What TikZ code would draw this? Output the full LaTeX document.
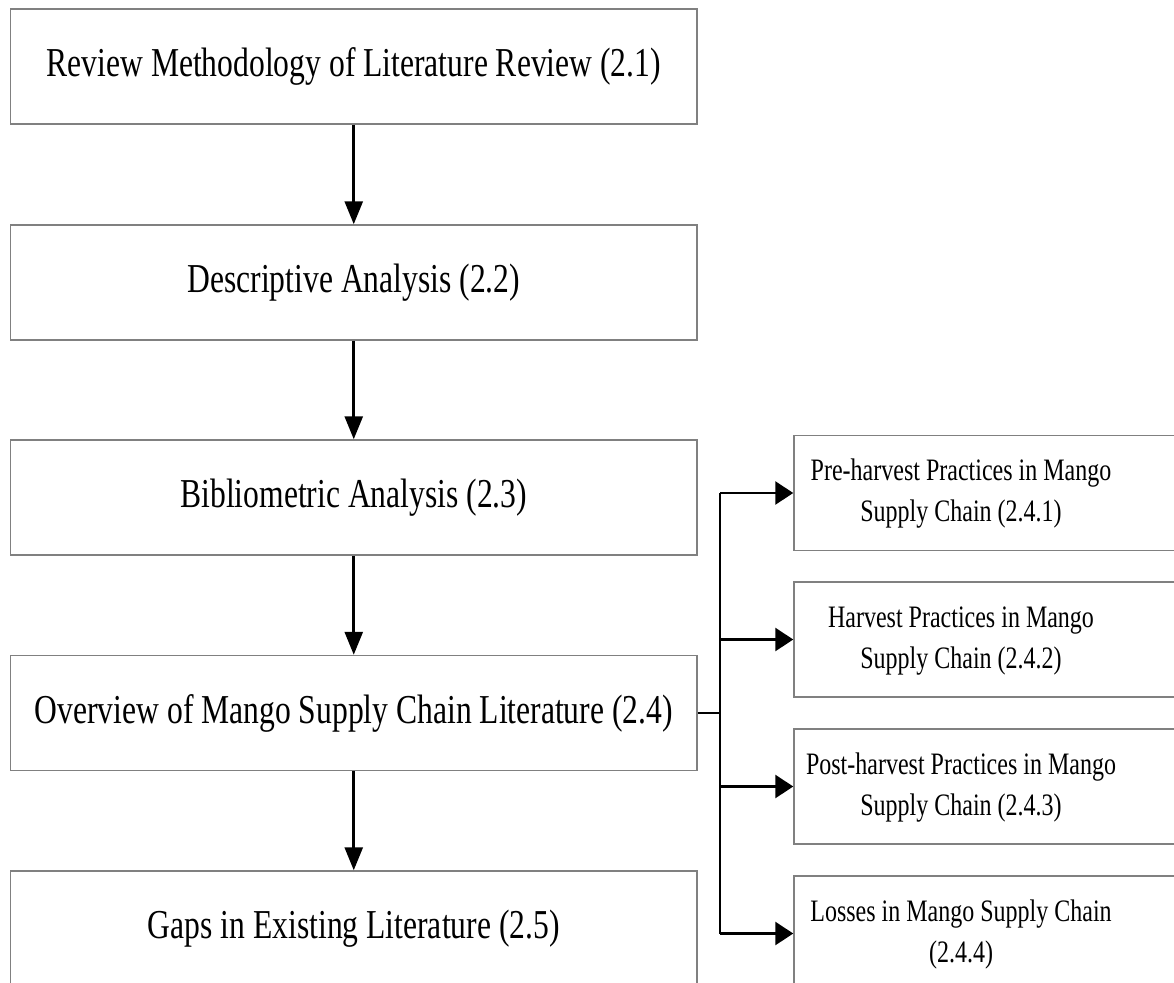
\documentclass[tikz,border=0pt]{standalone}
\usepackage{fontspec}
\setmainfont{Liberation Serif}
\usetikzlibrary{arrows.meta}
\definecolor{boxline}{RGB}{128,128,128}
% text is set taller than wide, as in the printed chart
\newcommand{\tallbig}[1]{\scalebox{1}[1.3]{\fontsize{31.6}{38}\selectfont #1}}
\newcommand{\tallsmall}[2]{\scalebox{1}[1.3]{\fontsize{24}{31.5}\selectfont\begin{tabular}{@{}c@{}}#1\\#2\end{tabular}}}
\begin{document}
\begin{tikzpicture}[x=1pt,y=-1pt,
  lbox/.style={draw=boxline,line width=1.5pt,fill=white,minimum width=686.5pt,minimum height=115pt,inner sep=0pt},
  rbox/.style={draw=boxline,line width=1.5pt,fill=white,minimum width=386pt,minimum height=115pt,inner sep=0pt},
  rtext/.style={inner sep=0pt},
  conn/.style={line width=2.8pt,line join=miter},
  downarrow/.style={conn,-{Triangle[length=23pt,width=18pt]}},
  rightarrow/.style={conn,-{Triangle[length=18pt,width=23pt]}}]
\useasboundingbox (0,0) rectangle (1174,982);
\clip (0,0) rectangle (1174,982);

% main sequence of sections
\node[lbox] (b1) at (353.75,66.5)  {\tallbig{Review Methodology of Literature Review (2.1)}};
\node[lbox] (b2) at (353.75,282.5) {\tallbig{Descriptive Analysis (2.2)}};
\node[lbox] (b3) at (353.75,497.5) {\tallbig{Bibliometric Analysis (2.3)}};
\node[lbox] (b4) at (353.75,713)   {\tallbig{Overview of Mango Supply Chain Literature (2.4)}};
\node[lbox] (b5) at (353.75,928.5) {\tallbig{Gaps in Existing Literature (2.5)}};

\draw[downarrow] (b1.south) -- (b2.north);
\draw[downarrow] (b2.south) -- (b3.north);
\draw[downarrow] (b3.south) -- (b4.north);
\draw[downarrow] (b4.south) -- (b5.north);

% subsections of 2.4
\node[rbox] (r1) at (987,493)   {};
\node[rbox] (r2) at (987,639.5) {};
\node[rbox] (r3) at (987,786.5) {};
\node[rbox] (r4) at (987,933.5) {};
\node[rtext] (t1) at (961,493)   {\tallsmall{Pre-harvest Practices in Mango}{Supply Chain (2.4.1)}};
\node[rtext] (t2) at (961,639.5) {\tallsmall{Harvest Practices in Mango}{Supply Chain (2.4.2)}};
\node[rtext] (t3) at (961,786.5) {\tallsmall{Post-harvest Practices in Mango}{Supply Chain (2.4.3)}};
\node[rtext] (t4) at (961,933.5) {\tallsmall{Losses in Mango Supply Chain}{(2.4.4)}};

% branching connector
\coordinate (bus) at (720,713);
\draw[conn] (b4.east) -- (bus);
\draw[conn] (bus |- r1.west) -- (bus |- r4.west);
\foreach \r in {r1,r2,r3,r4}
  \draw[rightarrow] (bus |- \r.west) -- (\r.west);
\end{tikzpicture}
\end{document}
